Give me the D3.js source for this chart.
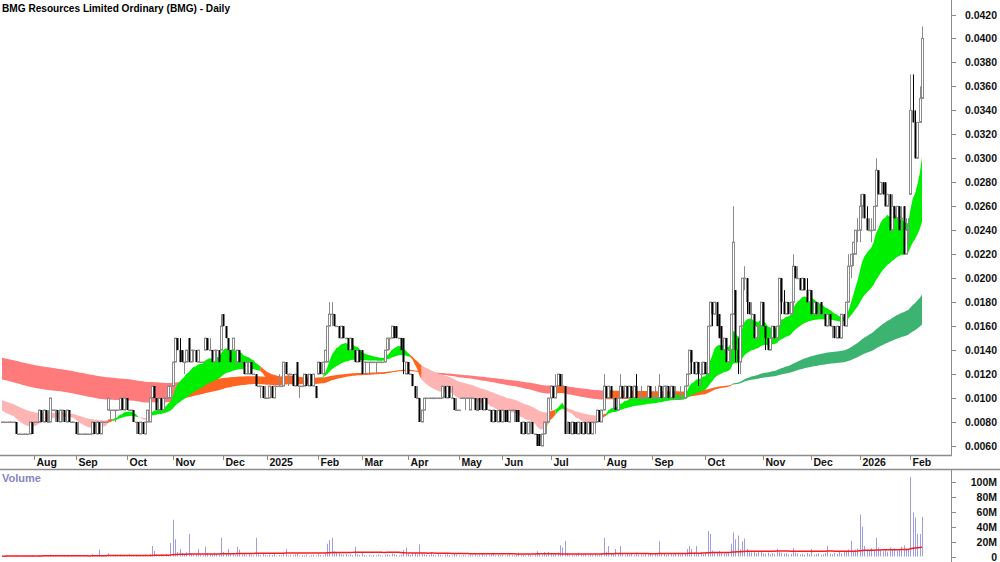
<!DOCTYPE html>
<html>
<head>
<meta charset="utf-8">
<script src="https://cdn.jsdelivr.net/npm/d3@7"></script>
<style>
  body { margin: 0; background: #fff; }
  svg { display: block; }
  text { font-family: "Liberation Sans", Arial, sans-serif; font-weight: bold; }
</style>
</head>
<body>
<svg width="1000" height="562"></svg>
<script>
const title = 'BMG Resources Limited Ordinary (BMG) - Daily';

// daily candles [open, high, low, close] in tenths of a cent (0.001)
const ohlc = [
  // Jul 2024
  [8,8,8,8],[8,8,8,8],[8,8,8,8],[8,8,8,8],[8,8,8,8],[8,8,8,8],[8,8,7,7],[7,7,7,7],[7,7,7,7],[7,7,7,7],
  [7,7,7,7],[7,7,7,7],[7,8,7,8],[8,8,7,7],[8,8,8,8],
  // Aug
  [8,8,8,8],[8,9,8,9],[9,9,8,8],[8,9,8,9],[9,9,8,8],[8,9,8,8],[8,10,8,10],[9,9,9,9],[9,9,8,9],[9,9,8,8],
  [8,9,8,9],[9,9,8,9],[9,9,8,8],[8,9,8,9],[9,9,8,8],[8,8,8,8],[8,8,8,8],[8,8,7,7],
  // Sep
  [7,8,7,7],[7,7,7,7],[7,7,7,7],[7,7,7,7],[7,7,7,7],[7,7,7,7],[7,8,7,8],[8,8,7,7],[7,8,7,8],[8,8,7,7],
  [7,8,7,8],[8,8,8,8],[8,8,8,8],[9,10,9,10],[9,9,8,9],[9,9,9,9],[9,9,8,9],[9,9,9,9],[9,10,9,10],[10,10,9,9],
  [9,10,9,10],
  // Oct
  [10,10,9,9],[9,9,9,9],[9,9,9,9],[9,9,8,8],[8,8,7,8],[8,8,7,7],[7,8,7,8],[8,8,7,7],[7,8,7,8],[8,9,8,9],
  [8,10,8,10],[10,11,10,11],[11,11,10,10],[10,10,9,9],[9,10,9,10],[10,10,9,9],[9,10,9,10],[10,10,10,10],[10,11,10,11],[10,11,10,11],
  [11,13,11,13],
  // Nov
  [13,15,13,15],[15,15,14,14],[14,15,13,13],[14,14,13,13],[13,13,12,13],[13,14,13,14],[15,15,13,13],[13,14,13,14],[14,14,13,14],[14,14,13,13],
  [13,14,13,14],[13,13,13,13],[13,13,13,13],[14,15,14,15],[15,15,14,14],[14,15,14,14],[14,14,13,13],[13,14,13,14],[14,14,13,14],[14,14,13,13],
  [14,17,14,16],
  // Dec
  [17,17,16,16],[16,16,15,15],[15,15,14,14],[14,14,13,13],[14,15,14,15],[13,13,13,13],[13,14,13,14],[14,14,13,13],[13,13,13,13],[13,13,12,12],
  [12,13,12,13],[12,13,12,13],[13,13,12,12],[12,12,12,12],[12,12,11,11],[11,11,11,11],[11,11,10,11],[11,11,10,10],[10,11,10,10],[10,10,10,10],
  // Jan 2025
  [10,11,10,11],[11,11,10,10],[10,11,10,11],[11,11,11,11],[11,12,11,11],[11,11,11,11],[11,13,11,13],[13,13,12,12],[12,12,11,12],[12,12,12,12],
  [12,12,11,11],[11,12,11,12],[13,13,11,11],[11,11,10,11],[11,11,11,11],[11,12,11,12],[12,12,11,11],[11,12,11,12],[12,12,11,11],[11,12,11,12],
  [11,11,10,10],[12,13,12,13],[13,13,12,12],[12,13,12,13],[13,14,13,14],
  // Feb
  [13,16,13,16],[16,18,16,17],[17,18,16,17],[17,17,16,16],[16,16,16,16],[16,16,15,15],[15,16,15,16],[16,16,15,15],[15,15,15,15],[15,15,14,14],
  [14,15,14,15],[15,15,14,14],[14,14,13,13],[13,14,13,14],[14,14,13,13],[14,14,12,12],[12,13,12,13],[13,13,13,13],[13,13,12,13],[13,13,13,13],
  // Mar
  [13,13,13,13],[13,13,12,13],[13,13,13,13],[13,13,13,13],[13,13,13,13],[13,14,13,14],[14,15,14,15],[15,15,14,15],[15,16,15,16],[16,16,15,15],
  [16,16,15,15],[15,15,15,15],[15,15,14,14],[15,15,12,13],[12,13,12,13],[13,13,12,12],[12,12,12,12],[12,12,11,11],[11,11,10,10],[10,11,10,10],
  // Apr
  [10,10,8,8],[8,9,8,9],[9,10,9,10],[10,10,10,10],[10,10,10,10],[10,10,10,10],[10,10,10,10],[10,10,10,10],[10,10,10,10],[10,10,10,10],
  [10,11,10,11],[11,11,10,10],[10,11,10,11],[11,11,10,10],[10,11,10,10],[10,10,9,9],[9,10,9,9],[9,9,9,9],[10,10,10,10],[10,10,10,10],
  // May
  [10,10,9,10],[10,10,10,10],[9,10,9,10],[10,10,10,10],[10,10,9,9],[9,10,9,9],[10,10,9,9],[10,10,9,9],[9,10,9,10],[10,10,9,9],
  [9,9,9,9],[9,9,8,8],[8,9,8,9],[9,9,8,8],[8,9,8,9],[9,9,8,8],[8,9,8,9],[9,9,8,8],[9,9,8,8],[8,9,8,9],
  [9,9,9,9],[9,9,8,9],[9,9,8,8],[9,9,8,8],
  // Jun
  [8,8,7,7],[7,8,7,8],[8,8,7,7],[7,8,7,8],[8,8,7,8],[8,8,7,7],[7,7,7,7],[7,7,6,6],[7,7,6,6],[6,7,6,7],
  [7,8,7,8],[8,8,7,8],[8,10,8,10],[10,11,9,11],[11,11,10,10],[10,12,10,11],[11,12,11,12],[12,12,11,11],[11,12,11,11],[11,11,7,7],
  [8,8,7,8],[8,8,7,7],
  // Jul
  [7,8,7,8],[8,8,7,7],[8,8,7,7],[7,8,7,8],[8,8,7,7],[7,8,7,8],[8,8,7,7],[7,8,7,8],[8,8,7,7],[7,8,7,8],
  [8,8,7,8],[8,9,8,9],[9,9,8,8],[8,9,8,9],
  // Aug
  [9,12,9,11],[11,11,10,10],[10,11,10,11],[11,11,10,10],[10,10,9,10],[10,10,9,9],[9,10,9,10],[10,12,10,11],[11,11,10,10],[10,11,10,11],
  [11,11,10,10],[10,11,10,11],[11,11,10,10],[10,11,10,11],[11,12,10,10],[10,10,10,10],[10,11,10,10],[10,10,10,10],[10,10,10,10],[10,11,10,11],
  [11,11,10,10],[10,10,10,10],[10,11,10,10],[10,10,10,10],[10,12,10,11],
  // Sep
  [11,11,10,10],[10,11,10,11],[11,11,10,11],[11,11,10,10],[10,11,10,11],[11,11,10,10],[10,11,10,10],[10,10,10,10],[10,11,10,10],[10,10,10,10],
  [10,11,10,11],[11,12,11,12],[12,14,12,14],[14,14,12,13],[13,13,12,12],[12,13,12,13],[13,13,11,12],[12,13,11,12],[12,13,12,13],[13,13,12,12],
  // Oct
  [12,16,12,16],[16,18,16,18],[18,18,16,17],[17,18,17,18],[18,18,16,16],[17,17,15,15],[16,16,14,14],[14,15,14,15],[15,15,13,13],[13,14,13,14],
  [14,17,13,17],[17,26,17,23],[19,19,13,14],[14,15,12,13],[13,16,12,16],[16,20,16,20],[20,21,19,20],[20,20,17,18],[18,18,17,17],[17,18,16,17],
  [17,17,15,15],[15,16,15,16],[16,16,15,16],[16,18,16,18],[18,18,16,16],
  // Nov
  [16,16,14,15],[15,15,14,14],[14,15,14,15],[15,16,15,16],[16,16,15,15],[15,16,15,16],[16,20,16,20],[20,20,17,18],[18,19,17,17],[17,18,17,18],
  [18,18,17,17],[17,18,17,18],[18,22,17,21],[21,21,20,20],[20,21,20,20],[20,20,19,19],[19,20,19,20],[20,20,19,19],[19,20,18,18],[18,19,18,19],
  [19,19,17,17],[17,18,17,18],[18,18,17,17],[17,18,17,17],[18,18,17,17],
  // Dec
  [17,17,17,17],[17,17,16,16],[16,17,16,17],[17,17,16,16],[16,16,15,16],[16,16,15,15],[15,16,15,16],[16,16,15,15],[15,17,15,17],[17,17,16,16],
  [16,18,16,18],[18,22,18,21],[21,22,20,22],[22,23,21,23],[22,24,22,24],[24,25,23,24],
  // Jan 2026
  [24,27,23,26],[26,27,25,27],[27,27,25,25],[25,26,24,24],[24,25,24,24],[24,25,23,24],[24,26,24,26],[26,30,26,29],[29,29,27,27],[27,28,27,28],
  [28,28,27,27],[28,28,26,26],[26,27,26,27],[27,27,24,24],[24,27,24,26],[26,26,25,25],[25,26,25,26],[26,26,24,24],[25,26,24,25],[26,26,22,22],
  [22,25,22,24],[24,25,23,24],
  // Feb
  [27,37,27,34],[34,37,33,33],[33,34,30,30],[30,33,30,33],[33,36,33,35],[35,41,35,40]
];

// daily volume, millions of shares
const volume = [
  0.5,0.3,1.2,0.4,0.8,0.2,1.5,0.6,0.3,0.9,0.4,0.2,1.1,1.8,0.5,
  0.7,1.6,0.9,2.1,1.2,0.6,2.4,1.0,0.5,0.8,1.3,0.4,1.7,0.9,0.3,0.6,0.5,1.4,
  0.8,0.3,0.5,0.2,0.6,0.4,3.1,1.2,2.2,9.0,1.5,0.8,0.6,4.2,2.0,1.1,0.7,1.6,2.5,1.0,0.6,
  0.9,3.2,1.4,0.8,2.1,1.3,0.7,1.8,2.6,1.2,3.0,14,7.5,2.2,1.6,2.8,1.9,3.4,2.4,18,49,
  23,6.0,10,4.5,3.2,5.5,30,4.1,2.8,3.6,10,2.4,1.9,13,4.8,3.3,2.2,5.1,3.0,2.6,25,
  6.2,4.0,10,3.1,2.7,1.8,13,9.0,2.3,4.4,1.6,3.0,2.1,1.4,25,2.8,1.9,3.5,2.2,1.5,
  2.6,1.8,3.3,1.2,2.0,1.6,4.1,10,1.4,2.2,1.8,2.9,3.8,1.3,2.0,1.7,2.6,1.1,1.9,2.4,1.5,3.2,2.1,1.6,3.6,
  17,22,25,7.0,6.0,4.2,3.1,2.5,3.4,1.9,2.7,1.6,13,3.0,2.2,4.6,1.8,1.3,2.4,1.1,
  2.0,1.5,2.8,1.7,1.2,2.4,3.0,1.8,4.0,3.2,2.1,1.6,2.5,9.0,12,3.4,2.2,3.8,4.5,2.6,
  16,5.0,3.1,2.4,1.9,6.0,2.3,1.7,3.0,2.2,1.5,2.8,3.5,2.0,1.6,3.9,2.5,1.4,1.2,2.1,
  1.8,1.3,2.6,1.7,2.9,1.2,2.3,3.1,1.6,2.0,1.4,2.7,3.3,1.5,2.2,1.8,2.5,1.1,2.0,3.0,1.7,1.3,2.4,5.0,
  1.9,2.6,1.4,3.2,2.0,1.5,2.7,7.0,3.3,2.1,6.0,2.4,6.0,3.8,2.6,4.1,5.0,15,12,21,4.6,2.8,
  2.2,1.6,3.0,5.0,2.4,1.8,2.9,1.5,2.6,2.0,3.4,2.3,1.9,3.6,
  25,6.5,14,4.2,3.1,10,2.8,14,3.6,2.2,4.0,2.7,3.3,1.9,5.2,2.5,3.0,2.1,4.4,2.6,3.5,2.0,3.8,2.4,20,
  3.2,4.1,2.5,3.6,4.8,2.9,3.4,5.0,2.7,4.2,3.9,10,14,10,5.5,14,4.6,5.8,3.7,6.1,
  34,30,8.0,6.5,5.2,7.4,4.8,3.9,5.6,4.3,17,32,23,28,9.5,20,24,10,7.2,5.5,6.8,4.4,5.9,6.3,4.1,
  3.5,5.2,2.8,4.6,3.3,10,6.1,5.0,3.9,4.4,2.7,3.6,11,5.3,4.0,2.9,3.7,2.4,4.8,3.1,10,2.6,3.4,4.2,2.2,
  3.0,4.5,14,3.8,2.9,5.1,3.5,6.0,4.2,7.5,6.8,9.5,21,8.0,9.2,10.5,
  56,40,14,9.0,7.8,11,8.5,25,12,8.2,7.0,9.6,6.5,12,8.8,11,7.4,9.1,13,15,10.5,9.0,
  106,59,52,30,30,53
];

// first candle of each month, and its label
const monthIndex = [14, 32, 54, 74, 96, 115, 137, 156, 176, 198, 217, 238, 261, 282, 305, 330, 351, 372, 394];
const monthLabels = ['Aug','Sep','Oct','Nov','Dec','2025','Feb','Mar','Apr','May','Jun','Jul','Aug','Sep','Oct','Nov','Dec','2026','Feb'];

const priceTicks = d3.range(6, 43, 2).map(v => v / 1000);
const volumeTicks = [0, 20, 40, 60, 80, 100];

// moving average ribbons: periods and their starting values (tenths of a cent)
const shortPeriods = [15, 20, 25, 30, 40, 50];
const shortSeed = [9.1, 9.25, 9.4, 9.55, 9.7, 9.9];
const longPeriods = [150, 165, 180, 200, 225, 260];
const longSeed = [11.6, 11.95, 12.3, 12.7, 13.05, 13.4];
const longUptrendFrom = 318;
const longSpreadLimit = 0.9;
const shortRiseLimit = 0.5;
const volumeAvgPeriod = 100;

const svg = d3.select('svg');

const x = d3.scaleLinear().domain([0, ohlc.length - 1]).range([2, 922]);
const y = d3.scaleLinear().domain([0.006, 0.042]).range([446, 14.5]);
const yv = d3.scaleLinear().domain([0, 100]).range([556.5, 481.5]);

svg.append('defs').append('clipPath').attr('id', 'pclip')
  .append('rect').attr('x', 0).attr('y', 0).attr('width', 951).attr('height', 455);

// title
svg.append('text')
  .attr('x', 2).attr('y', 12)
  .attr('font-size', 11)
  .attr('textLength', 228).attr('lengthAdjust', 'spacingAndGlyphs')
  .text(title);

// ribbons
function ema(period, seed) {
  const k = 2 / (period + 1);
  let e = seed;
  return ohlc.map(d => (e = e + k * (d[3] - e)));
}
const shortE = shortPeriods.map((p, j) => ema(p, shortSeed[j]));
const longE = longPeriods.map((p, j) => ema(p, longSeed[j]));
const shortMean = ohlc.map((d, i) => d3.mean(shortE, e => e[i]));
const longMean = ohlc.map((d, i) => d3.mean(longE, e => e[i]));

const GREEN = '#00ee00', ORANGE = '#ff6420', PINK = '#ffb4b4', RED = '#ff7a7a', DKGREEN = '#3cb371';

const shortBull = i => shortE[0][i] > shortE[5][i];
const shortColor = i => {
  if (shortBull(i)) return GREEN;
  const rising = i > 4 && shortE[0][i] - shortE[0][i - 5] > shortRiseLimit;
  return (shortMean[i] > longMean[i] || rising) ? ORANGE : PINK;
};
const longColor = i => {
  const spread = longE[5][i] - longE[0][i];
  if (shortMean[i] < longMean[i] && (!shortBull(i) || spread > longSpreadLimit)) return RED;
  return i >= longUptrendFrom ? DKGREEN : ORANGE;
};

const plot = svg.append('g').attr('clip-path', 'url(#pclip)');

function ribbon(emas, colorOf) {
  const n = ohlc.length;
  const top = d3.range(n).map(i => d3.max(emas, e => e[i]));
  const bot = d3.range(n).map(i => d3.min(emas, e => e[i]));
  const runs = [];
  let start = 0;
  for (let i = 1; i <= n; i++) {
    if (i === n || colorOf(i) !== colorOf(start)) {
      runs.push({ c: colorOf(start), a: start, b: i - 1 });
      start = i;
    }
  }
  const area = d3.area()
    .x(i => x(i))
    .y0(i => y(bot[i] / 1000))
    .y1(i => y(top[i] / 1000));
  plot.append('g').selectAll('path')
    .data(runs)
    .join('path')
    .attr('d', r => area(d3.range(Math.max(0, r.a - 1), r.b + 1)))
    .attr('fill', r => r.c);
}
ribbon(longE, longColor);
ribbon(shortE, shortColor);

// candles: hollow grey when up, solid black when down
const up = d => d[3] >= d[0];
const candles = plot.append('g').selectAll('g')
  .data(ohlc)
  .join('g');

candles.append('line')
  .attr('x1', (d, i) => Math.round(x(i)) + 0.5)
  .attr('x2', (d, i) => Math.round(x(i)) + 0.5)
  .attr('y1', d => y(d[1] / 1000))
  .attr('y2', d => y(d[2] / 1000))
  .attr('stroke', d => up(d) ? '#8a8a8a' : '#000')
  .attr('stroke-width', 1);

candles.filter(up).append('rect')
  .attr('x', d => Math.round(x(ohlc.indexOf(d))) - 0.5)
  .attr('width', 2)
  .attr('y', d => y(d[3] / 1000))
  .attr('height', d => Math.max(0.5, y(d[0] / 1000) - y(d[3] / 1000)))
  .attr('fill', '#fff')
  .attr('stroke', '#8a8a8a')
  .attr('stroke-width', 1);

candles.filter(d => !up(d)).append('rect')
  .attr('x', d => Math.round(x(ohlc.indexOf(d))) - 0.5)
  .attr('width', 2)
  .attr('y', d => y(d[0] / 1000))
  .attr('height', d => Math.max(1, y(d[3] / 1000) - y(d[0] / 1000)))
  .attr('fill', '#000');

// frame lines
const axisColor = '#8c8c8c';
svg.append('line').attr('x1', 0).attr('x2', 952).attr('y1', 455.5).attr('y2', 455.5)
  .attr('stroke', axisColor).attr('stroke-width', 1.5);
svg.append('line').attr('x1', 0).attr('x2', 1000).attr('y1', 469.5).attr('y2', 469.5)
  .attr('stroke', axisColor).attr('stroke-width', 1.5);
svg.append('line').attr('x1', 951.5).attr('x2', 951.5).attr('y1', 0).attr('y2', 455)
  .attr('stroke', axisColor);
svg.append('line').attr('x1', 951.5).attr('x2', 951.5).attr('y1', 469).attr('y2', 562)
  .attr('stroke', axisColor);

// price axis
const pAxis = svg.append('g').selectAll('g').data(priceTicks).join('g')
  .attr('transform', d => `translate(0,${Math.round(y(d)) + 0.5})`);
pAxis.append('line').attr('x1', 952).attr('x2', 956).attr('stroke', axisColor);
pAxis.append('text')
  .attr('x', 997).attr('dy', '0.35em')
  .attr('text-anchor', 'end')
  .attr('font-size', 10.5)
  .attr('fill', '#111')
  .text(d => d3.format('.4f')(d));

// month axis
const mAxis = svg.append('g').selectAll('g').data(monthIndex).join('g')
  .attr('transform', d => `translate(${Math.round(x(d)) + 0.5},0)`);
mAxis.append('line').attr('y1', 456).attr('y2', 460).attr('stroke', axisColor);
mAxis.append('text')
  .attr('x', 2).attr('y', 466)
  .attr('font-size', 10.5)
  .attr('fill', '#111')
  .text((d, i) => monthLabels[i]);

// volume panel
svg.append('text')
  .attr('x', 2).attr('y', 482)
  .attr('font-size', 11)
  .attr('fill', '#8585c8')
  .text('Volume');

svg.append('g').selectAll('line')
  .data(volume)
  .join('line')
  .attr('x1', (d, i) => Math.round(x(i)) + 0.5)
  .attr('x2', (d, i) => Math.round(x(i)) + 0.5)
  .attr('y1', yv(0))
  .attr('y2', d => yv(d))
  .attr('stroke', '#9d9de4')
  .attr('stroke-width', 1);

const volAvg = volume.map((v, i) => d3.mean(volume.slice(Math.max(0, i - volumeAvgPeriod + 1), i + 1)));
svg.append('path')
  .datum(volAvg)
  .attr('d', d3.line().x((d, i) => x(i)).y(d => yv(d)))
  .attr('fill', 'none')
  .attr('stroke', '#ff1a1a')
  .attr('stroke-width', 1.5);

const vAxis = svg.append('g').selectAll('g').data(volumeTicks).join('g')
  .attr('transform', d => `translate(0,${Math.round(yv(d)) + 0.5})`);
vAxis.append('line').attr('x1', 952).attr('x2', 956).attr('stroke', axisColor);
vAxis.append('text')
  .attr('x', 997).attr('dy', '0.35em')
  .attr('text-anchor', 'end')
  .attr('font-size', 10.5)
  .attr('fill', '#111')
  .text(d => d === 0 ? '0' : d + 'M');
</script>
</body>
</html>
